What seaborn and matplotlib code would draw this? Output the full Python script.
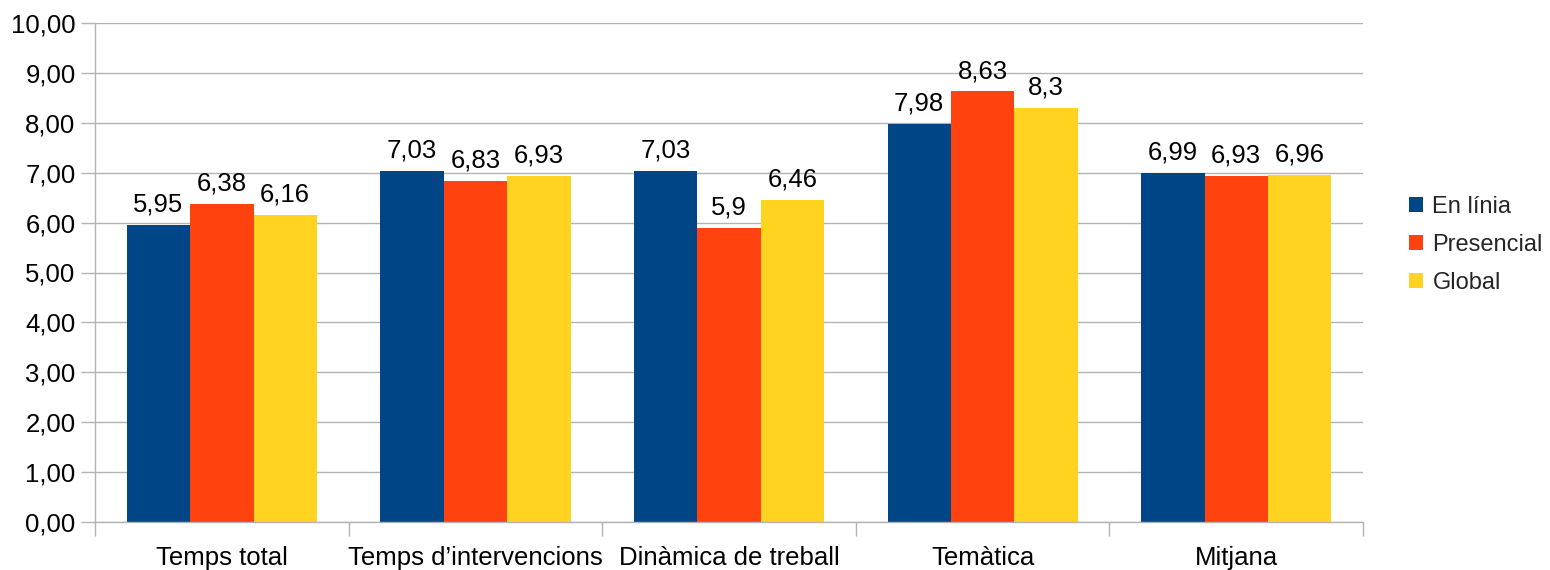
import numpy as np
import pandas as pd
import matplotlib
matplotlib.use("Agg")
import matplotlib.pyplot as plt
import seaborn as sns
from matplotlib.ticker import FixedLocator

categories = ["Temps total", "Temps d\u2019intervencions", "Din\u00e0mica de treball", "Tem\u00e0tica", "Mitjana"]
series = ["En l\u00ednia", "Presencial", "Global"]
en_linia = [5.95, 7.03, 7.03, 7.98, 6.99]
presencial = [6.38, 6.83, 5.9, 8.63, 6.93]
global_ = [6.16, 6.93, 6.46, 8.3, 6.96]
colors = ["#004586", "#ff420e", "#ffd320"]

rows = []
for name, vals in zip(series, [en_linia, presencial, global_]):
    for c, v in zip(categories, vals):
        rows.append({"cat": c, "serie": name, "val": v})
df = pd.DataFrame(rows)

sns.set_style("white")
plt.rcParams["font.family"] = ["Liberation Sans", "DejaVu Sans"]
fs = 18.5

fig = plt.figure(figsize=(15.5, 5.7), dpi=100)
ax = fig.add_axes([95 / 1550, 1 - 522 / 570, (1363 - 95) / 1550, (522 - 23) / 570])

sns.barplot(data=df, x="cat", y="val", hue="serie", palette=colors, width=0.75,
            saturation=1, gap=0, ax=ax, linewidth=0, edgecolor="none")

for cont in ax.containers:
    ax.bar_label(cont, labels=[str(v).replace(".", ",") for v in cont.datavalues],
                 padding=6, fontsize=fs, color="black")

ax.set_ylim(0, 10)
ax.set_xlim(-0.5, 4.5)
ax.set_yticks(np.arange(0, 11, 1))
ax.set_yticklabels([f"{v:.2f}".replace(".", ",") for v in range(11)], fontsize=fs)
ax.yaxis.grid(True, color="#b3b3b3", linewidth=1)
ax.set_axisbelow(True)
ax.tick_params(axis="y", left=True, length=10, color="#b3b3b3", width=1, pad=4,
               labelcolor="black")
ax.tick_params(axis="x", which="major", bottom=True, length=0, labelsize=fs, pad=17,
               labelcolor="black")
ax.xaxis.set_minor_locator(FixedLocator(np.arange(-0.5, 5, 1)))
ax.tick_params(axis="x", which="minor", bottom=True, length=10, color="#b3b3b3", width=1)
ax.set_xlabel("")
ax.set_ylabel("")
for s in ["top", "right"]:
    ax.spines[s].set_visible(False)
for s in ["left", "bottom"]:
    ax.spines[s].set_color("#b3b3b3")
    ax.spines[s].set_linewidth(1)

ax.legend(loc="center left", bbox_to_anchor=(1397 / 1550, 1 - 245 / 570),
          bbox_transform=fig.transFigure, frameon=False, fontsize=17,
          handlelength=0.6, handleheight=0.6, handletextpad=0.4, labelspacing=0.68,
          borderpad=0, title=None)

fig.savefig("out.png", dpi=100)
